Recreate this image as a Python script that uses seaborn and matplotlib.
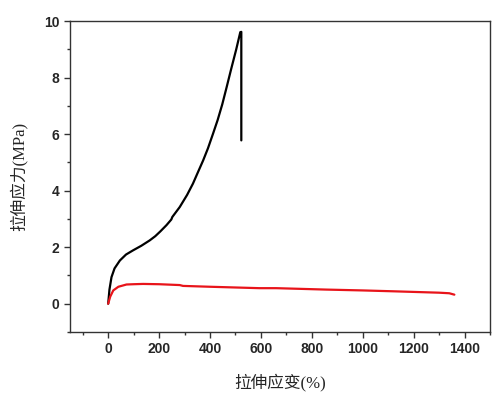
import matplotlib
matplotlib.use("Agg")
import matplotlib.pyplot as plt
import matplotlib.ticker as mticker
import seaborn as sns

# 黑色曲线 (断裂处垂直下降)
black_strain = [0, 5, 13, 25, 46, 70, 98, 130, 163, 185, 205, 229, 248, 252,
                281, 310, 333, 350, 373, 392, 412, 430, 448, 465, 483, 503,
                519, 523, 523]
black_stress = [0, 0.5, 0.94, 1.25, 1.53, 1.74, 1.89, 2.05, 2.24, 2.39, 2.56,
                2.78, 2.98, 3.07, 3.42, 3.85, 4.25, 4.6, 5.07, 5.5, 6.02,
                6.5, 7.05, 7.65, 8.3, 9.0, 9.61, 9.62, 5.78]

# 红色曲线
red_strain = [0, 8, 20, 40, 72, 100, 137, 200, 281, 294, 400, 594, 660, 856,
              1000, 1118, 1300, 1340, 1360]
red_stress = [0, 0.25, 0.47, 0.6, 0.68, 0.69, 0.7, 0.69, 0.66, 0.63, 0.6,
              0.55, 0.55, 0.5, 0.47, 0.44, 0.39, 0.37, 0.32]

x_ticks = [0, 200, 400, 600, 800, 1000, 1200, 1400]
y_ticks = [0, 2, 4, 6, 8, 10]

sns.set_style("ticks")
plt.rcParams["font.family"] = ["Liberation Sans", "Noto Sans CJK SC"]

fig = plt.figure(figsize=(5, 3.99), dpi=100)
ax = fig.add_axes([0.14, 0.168, 0.84, 0.779])

sns.lineplot(x=black_strain, y=black_stress, sort=False, estimator=None,
             color="black", linewidth=1.6, ax=ax)
sns.lineplot(x=red_strain, y=red_stress, sort=False, estimator=None,
             color="#e8141a", linewidth=1.6, ax=ax)

ax.set_xlim(-150, 1500)
ax.set_ylim(-1, 10)
ax.set_xticks(x_ticks)
ax.set_yticks(y_ticks)
ax.xaxis.set_minor_locator(mticker.MultipleLocator(100))
ax.yaxis.set_minor_locator(mticker.MultipleLocator(1))
ax.tick_params(which="major", direction="out", length=4, width=1,
               labelsize=10, color="#333333")
ax.tick_params(which="minor", direction="out", length=2.5, width=1,
               color="#333333")
for lab in ax.get_xticklabels() + ax.get_yticklabels():
    lab.set_fontweight("bold")

for sp in ax.spines.values():
    sp.set_visible(True)
    sp.set_color("#333333")
    sp.set_linewidth(1)

lab_font = ["Liberation Serif", "Noto Sans CJK SC"]
ax.set_xlabel("拉伸应变(%)", family=lab_font, fontsize=12, labelpad=12)
ax.set_ylabel("拉伸应力(MPa)", family=lab_font, fontsize=12, labelpad=12)

fig.savefig("out.png", dpi=100)
